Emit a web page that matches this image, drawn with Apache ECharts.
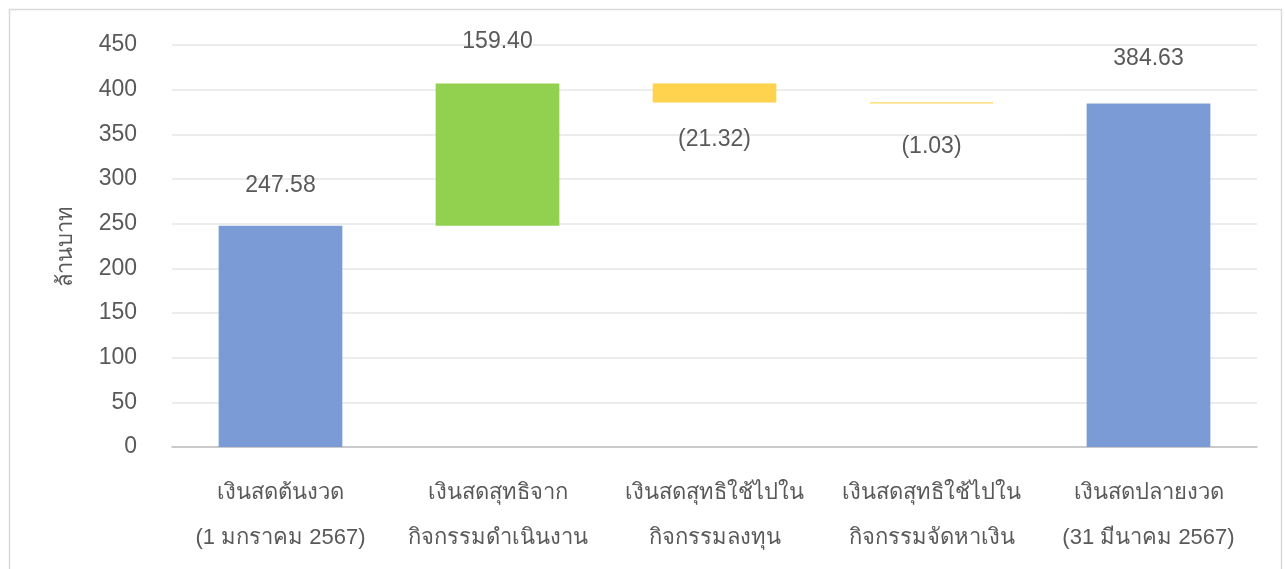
<!DOCTYPE html>
<html>
<head>
<meta charset="utf-8">
<script src="https://cdn.jsdelivr.net/npm/echarts@6/dist/echarts.min.js"></script>
<style>
html,body{margin:0;padding:0;background:#fff;}
#main{width:1285px;height:569px;}
</style>
</head>
<body>
<div id="main"></div>
<script>
// ---- Data ----
var categories = [
  'เงินสดต้นงวด\n(1 มกราคม 2567)',
  'เงินสดสุทธิจาก\nกิจกรรมดำเนินงาน',
  'เงินสดสุทธิใช้ไปใน\nกิจกรรมลงทุน',
  'เงินสดสุทธิใช้ไปใน\nกิจกรรมจัดหาเงิน',
  'เงินสดปลายงวด\n(31 มีนาคม 2567)'
];
var values = [247.58, 159.40, -21.32, -1.03, 384.63];
var isTotal = [true, false, false, false, true];
var yTicks = { min: 0, max: 450, interval: 50 };
var yAxisName = 'ล้านบาท';

// ---- Styling (label gaps per bar, px) ----
var labelGap = [29, 30, 26, 32, 33];

// ---- Build waterfall (base + visible) ----
var colTotal = '#7A9BD6', colUp = '#92D050', colDown = '#FFD34D';
var baseData = [], barData = [];
var running = 0;
for (var i = 0; i < values.length; i++) {
  var v = values[i];
  if (isTotal[i]) {
    baseData.push(0);
    barData.push({ value: v, itemStyle: { color: colTotal }, orig: v,
      label: { position: 'top', distance: labelGap[i] } });
    running = v;
  } else if (v >= 0) {
    baseData.push(running);
    barData.push({ value: v, itemStyle: { color: colUp }, orig: v,
      label: { position: 'top', distance: labelGap[i] } });
    running += v;
  } else {
    running += v;
    baseData.push(running);
    barData.push({ value: -v, orig: v,
      itemStyle: { color: colDown, borderColor: colDown, borderWidth: 0.6 },
      label: { position: 'bottom', distance: labelGap[i] } });
  }
}

function fmt(v) {
  var s = Math.abs(v).toFixed(2);
  return v < 0 ? '(' + s + ')' : s;
}

var FONT = '"Liberation Sans", Arial, sans-serif';
var TXT = '#595959';
var chart = echarts.init(document.getElementById('main'));
chart.setOption({
  animation: false,
  textStyle: { fontFamily: FONT },
  graphic: [{
    type: 'rect', left: 7, top: 7,
    shape: { width: 1272, height: 600 },
    style: { fill: 'none', stroke: '#D9D9D9', lineWidth: 1.5 },
    silent: true, z: -1
  }],
  grid: { left: 172, right: 28, top: 45, bottom: 122, containLabel: false },
  xAxis: {
    type: 'category',
    data: categories,
    axisLine: { lineStyle: { color: '#BFBFBF', width: 1.5 } },
    axisTick: { show: false },
    axisLabel: { color: TXT, fontSize: 22, lineHeight: 45, margin: 23, fontFamily: FONT, interval: 0 }
  },
  yAxis: {
    type: 'value',
    min: yTicks.min, max: yTicks.max, interval: yTicks.interval,
    name: yAxisName,
    nameLocation: 'middle',
    nameRotate: 90,
    nameGap: 95,
    nameTextStyle: { color: TXT, fontSize: 22, fontFamily: FONT },
    axisLine: { show: false },
    axisTick: { show: false },
    axisLabel: { color: TXT, fontSize: 23, margin: 35, fontFamily: FONT },
    splitLine: { lineStyle: { color: '#E6E6E6', width: 1.5 } }
  },
  series: [
    {
      type: 'bar', stack: 'wf', data: baseData, barWidth: '57%',
      itemStyle: { color: 'transparent' }, silent: true
    },
    {
      type: 'bar', stack: 'wf', data: barData, barWidth: '57%',
      label: {
        show: true, color: TXT, fontSize: 23, fontFamily: FONT,
        formatter: function (p) { return fmt(p.data.orig); }
      }
    }
  ]
});
</script>
</body>
</html>
